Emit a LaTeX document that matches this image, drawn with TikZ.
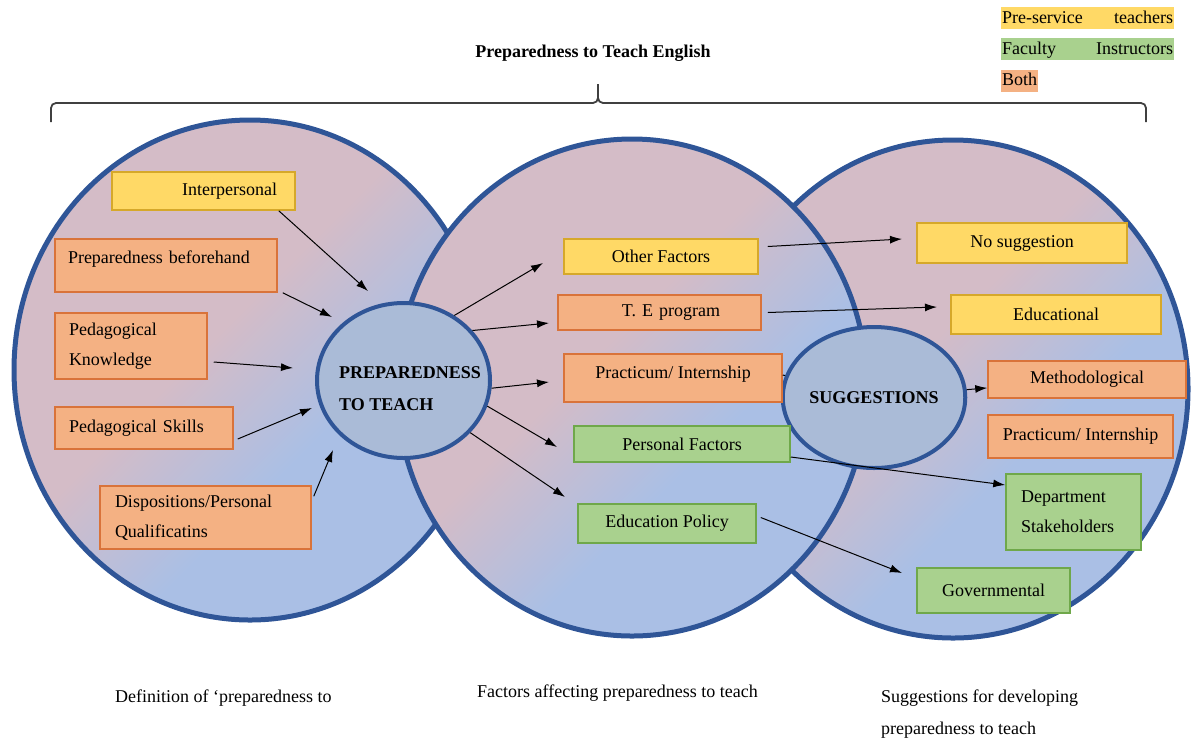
\documentclass[tikz,border=0pt]{standalone}
\usepackage{fontspec}
\setmainfont{Liberation Serif}
\usetikzlibrary{positioning}
\usetikzlibrary{shapes.geometric}
\usetikzlibrary{arrows.meta}

\definecolor{yfill}{HTML}{FFD966}
\definecolor{ybord}{HTML}{D6A82A}
\definecolor{ofill}{HTML}{F4B183}
\definecolor{obord}{HTML}{D9733A}
\definecolor{gfill}{HTML}{A9D18E}
\definecolor{gbord}{HTML}{6FA84A}
\definecolor{cbord}{HTML}{2F5597}
\definecolor{cpink}{HTML}{D4BCC7}
\definecolor{cblue}{HTML}{AABFE5}
\definecolor{cfill}{HTML}{AABBD7}
\definecolor{brc}{HTML}{404040}

\pgfdeclarehorizontalshading{pinkblue}{100bp}{color(0bp)=(cpink); color(45bp)=(cpink); color(60bp)=(cblue); color(100bp)=(cblue)}

\tikzset{
  box/.style={line width=1.5pt, inner xsep=0pt, inner ysep=0pt, font=\fontsize{18}{30}\selectfont},
  ybox/.style={box, draw=ybord, fill=yfill},
  obox/.style={box, draw=obord, fill=ofill},
  gbox/.style={box, draw=gbord, fill=gfill},
  bigc/.style={ellipse, draw=cbord, line width=5pt, shade, shading=pinkblue, shading angle=-45, inner sep=0pt},
  smallc/.style={ellipse, draw=cbord, line width=4pt, fill=cfill, inner sep=0pt, font=\fontsize{18}{32}\selectfont\bfseries},
  arr/.style={-{Latex[length=12pt,width=8pt]}, line width=1pt},
  leg/.style={inner xsep=1pt, inner ysep=2pt, text height=14pt, text depth=4pt, font=\fontsize{18}{22}\selectfont},
  txt/.style={font=\fontsize{18}{32}\selectfont, inner sep=0pt}
}

\begin{document}
\begin{tikzpicture}[x=1pt, y=-1pt]
  \useasboundingbox (0,0) rectangle (1193,740);

  % legend
  \node[leg, fill=yfill, text width=171pt] (leg_pre) at (1087.5,18) {Pre-service\hfill teachers};
  \node[leg, fill=gfill, text width=171pt, below=9pt of leg_pre] (leg_fac) {Faculty\hfill Instructors};
  \node[leg, fill=ofill, below=9pt of leg_fac.south west, anchor=north west] (leg_both) {Both};

  % title and brace
  \node[font=\fontsize{18}{22}\selectfont\bfseries] (title) at (593,53) {Preparedness to Teach English};
  \draw[line width=1.8pt, draw=brc, rounded corners=5pt] (51,122) |- (598,103) -- (598,84);
  \draw[line width=1.8pt, draw=brc, rounded corners=5pt] (1146,122) |- (598,103) -- (598,84);

  % the three big circles
  \node[bigc, minimum width=472pt, minimum height=500pt] (c_def) at (250,370) {};
  \node[bigc, minimum width=470pt, minimum height=498pt] (c_sug) at (953,389) {};
  \node[bigc, minimum width=470pt, minimum height=497pt] (c_fac) at (632,387.5) {};

  \node[smallc, minimum width=173pt, minimum height=155pt] (ptt) at (403.5,380.5) {};
  \node[font=\fontsize{18}{32}\selectfont\bfseries, align=left, inner sep=0pt] (ptt_txt) at (410,389) {PREPAREDNESS\\TO TEACH};
  \node[smallc, minimum width=178pt, minimum height=141pt] (sugg) at (874,397.5) {SUGGESTIONS};

  % definition
  \node[ybox, minimum height=38pt, text width=147pt, inner xsep=18pt, align=right] (inter) at (203.5,191) {Interpersonal};
  \node[obox, text width=196pt, inner xsep=13pt, align=left, text height=24pt, text depth=29pt] (prep_b) at (166,265.5) {Preparedness beforehand};
  \node[obox, minimum height=66pt, text width=124pt, inner xsep=14pt, align=left] (ped_k) at (131,346) {Pedagogical\\Knowledge};
  \node[obox, minimum height=42pt, text width=150pt, inner xsep=14pt, align=left] (ped_s) at (144,428) {Pedagogical Skills};
  \node[obox, minimum height=63pt, text width=181pt, inner xsep=15pt, align=left] (disp) at (205.5,517.5) {Dispositions/Personal\\Qualificatins};

  % factors
  \node[ybox, minimum width=194pt, minimum height=35pt] (oth) at (661,256.5) {Other Factors};
  \node[obox, minimum height=35pt, text width=121pt, inner xsep=41pt, align=right] (te) at (659.5,312.5) {T. E program};
  \node[obox, minimum width=218pt, text height=24pt, text depth=24pt] (prac_m) at (673,378) {Practicum/ Internship};
  \node[gbox, minimum width=216pt, minimum height=36pt] (pf) at (682,444) {Personal Factors};
  \node[gbox, minimum width=178pt, minimum height=39pt] (ep) at (667,523.5) {Education Policy};

  % suggestions
  \node[ybox, minimum width=210pt, minimum height=40pt] (nosug) at (1022,243) {No suggestion};
  \node[ybox, minimum width=210pt, minimum height=39pt] (edu) at (1056,314.5) {Educational};
  \node[obox, minimum width=198pt, minimum height=37pt] (meth) at (1087,379.5) {Methodological};
  \node[obox, minimum width=185pt, minimum height=43pt] (prac_r) at (1080.5,436.5) {Practicum/ Internship};
  \node[gbox, minimum height=76pt, text width=105pt, inner xsep=15pt, align=left] (dept) at (1073.5,512) {Department\\Stakeholders};
  \node[gbox, minimum width=153pt, minimum height=45pt] (gov) at (993.5,590.5) {Governmental};

  % captions
  \node[txt, anchor=west] (cap_def) at (115,698) {Definition of ‘preparedness to};
  \node[txt, anchor=west] (cap_fac) at (477,693) {Factors affecting preparedness to teach};
  \node[txt, anchor=west, align=left] (cap_sug) at (881,714) {Suggestions for developing\\preparedness to teach};

  % arrow ends
  \coordinate (t_inter) at (368,291);
  \coordinate (t_prep) at (332,317);
  \coordinate (t_pedk) at (293,368);
  \coordinate (t_peds) at (312,408);
  \coordinate (t_disp) at (333,450);
  \coordinate (t_oth) at (543,263);
  \coordinate (t_te) at (549,323);
  \coordinate (t_prac) at (549,382);
  \coordinate (t_pf) at (557,447);
  \coordinate (t_ep) at (565,497);
  \coordinate (t_nosug) at (902,239);
  \coordinate (t_edu) at (937,307);
  \coordinate (t_gov) at (902,573);

  \path[arr] ([xshift=-17pt]inter.south east) edge (t_inter);
  \path[arr] ([xshift=5pt]prep_b.south east) edge (t_prep);
  \path[arr] ([xshift=6pt,yshift=-16pt]ped_k.east) edge (t_pedk);
  \path[arr] ([xshift=4pt,yshift=-11pt]ped_s.east) edge (t_peds);
  \path[arr] ([xshift=2pt,yshift=-11pt]disp.north east) edge (t_disp);

  \path[arr] (ptt.52) edge (t_oth);
  \path[arr] (ptt.36) edge (t_te);
  \path[arr] (ptt.-5) edge (t_prac);
  \path[arr] (ptt.-17) edge (t_pf);
  \path[arr] (ptt.-38) edge (t_ep);

  \path[arr] ([xshift=9pt,yshift=10pt]oth.east) edge (t_nosug);
  \path[arr] ([xshift=6pt]te.east) edge (t_edu);
  \draw[line width=1pt] ([yshift=3pt]prac_m.east) -- (sugg);
  \path[arr] (sugg) edge (meth);
  \path[arr] ([yshift=-13pt]pf.east) edge ([yshift=27pt]dept.west);
  \path[arr] ([xshift=4pt,yshift=6pt]ep.east) edge (t_gov);
\end{tikzpicture}
\end{document}
